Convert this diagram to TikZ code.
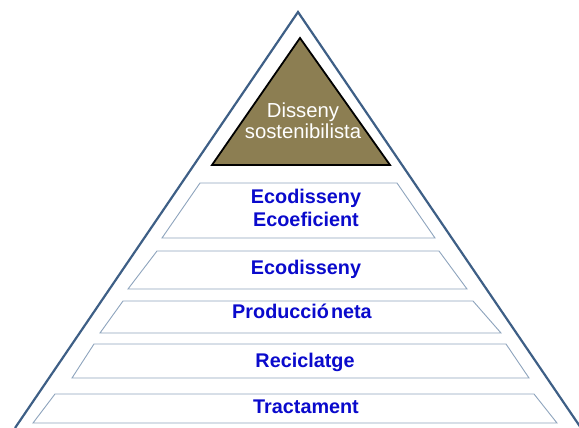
\documentclass[tikz,border=0pt]{standalone}
\usepackage{fontspec}
\setmainfont{Liberation Sans}
\usepackage{xcolor}
\usepackage{tikz}
\definecolor{frame}{HTML}{3E5F86}
\definecolor{band}{HTML}{8EA4BD}
\definecolor{olive}{HTML}{8C7E52}
\definecolor{lvl}{HTML}{0A0ACC}
\tikzset{
  outer/.style={draw=frame, line width=2.2pt, line join=miter},
  apex/.style={draw=black, line width=1.8pt, fill=olive, line join=miter},
  level/.style={draw=band, line width=0.9pt, fill=white},
  lab/.style={text=lvl, font=\fontsize{19.8}{22.5}\selectfont\bfseries, align=center, inner sep=0pt},
  labtop/.style={text=white, font=\fontsize{20.3}{21}\selectfont, align=center, inner sep=0pt}
}

\begin{document}
\begin{tikzpicture}[x=1pt,y=-1pt]
  \useasboundingbox (0,0) rectangle (579,428);
  \clip (0,0) rectangle (579,428);
  \coordinate (T) at (298,12);
  \coordinate (L) at (15,428);
  \coordinate (R) at (581,428);
  \coordinate (P) at (300,38);
  \coordinate (PL) at (212,165);
  \coordinate (PR) at (390,165);

  \draw[outer] (L) -- (T) -- (R);
  \draw[apex] (P) -- (PR) -- (PL) -- cycle;
  \node[labtop] (top) at (303,120.5) {Disseny\\sostenibilista};

  % levels, top to bottom
  \draw[level] (200,183) -- (397,183) -- (435,238) -- (162,238) -- cycle;
  \draw[level] (157,251) -- (439,251) -- (467,289) -- (128,289) -- cycle;
  \draw[level] (123,301) -- (473,301) -- (501,333) -- (100,333) -- cycle;
  \draw[level] (94,344) -- (506,344) -- (529,378) -- (72,378) -- cycle;
  \draw[level] (55,394) -- (534,394) -- (557,423) -- (33,423) -- cycle;

  \node[lab] (ecoef) at (306,208) {Ecodisseny\\Ecoeficient};
  \node[lab,anchor=base] (eco) at (306,274.5) {Ecodisseny};
  \node[lab,anchor=base] (neta) at (302,318) {Producció\hspace{0.1em}neta};
  \node[lab,anchor=base] (recic) at (305,367) {Reciclatge};
  \node[lab,anchor=base] (tract) at (306,413) {Tractament};
\end{tikzpicture}
\end{document}
